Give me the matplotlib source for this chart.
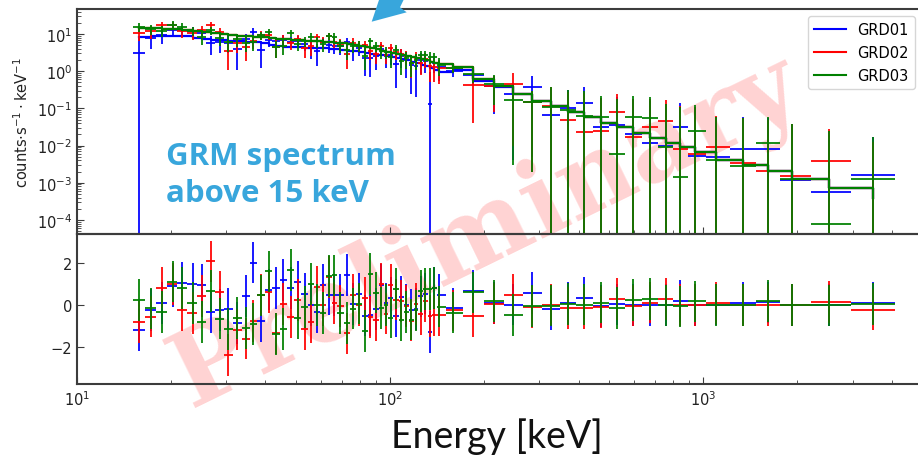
import numpy as np
import matplotlib
matplotlib.use("Agg")
import matplotlib.pyplot as plt
from matplotlib.lines import Line2D
from matplotlib.patches import Polygon
from matplotlib.ticker import LogLocator

# ---------------------------------------------------------------------------
# Spectral data: bin centres (keV), count rates, 1-sigma errors and model
# ---------------------------------------------------------------------------
energy_kev = [15.8, 17.2, 18.7, 20.2, 21.7, 23.4, 25.0, 26.8, 28.6, 30.4,
              32.5, 34.6, 36.6, 38.7, 40.9, 43.2, 45.6, 48.2, 50.7, 53.3,
              55.8, 58.3, 61.0, 63.7, 66.4, 69.2, 73.1, 76.0, 79.8, 83.2,
              86.3, 90.2, 93.6, 97.1, 100.5, 104.5, 108.4, 112.5, 116.7, 121.1,
              125.3, 129.4, 134.2, 138.5, 143.7,
              159, 184, 215, 247, 284, 327, 371, 417, 472, 531,
              597, 677, 762, 845, 942, 1101, 1343, 1614, 1923, 2528, 3491]

rate_grd01 = [3.1, 7.8, 9.3, 12.7, 12.7, 11.7, 10.6, 5.9, 6.0, 5.9,
              3.9, 7.3, 11.5, 3.7, 6.8, 6.4, 7.1, 6.1, 6.6, 5.3,
              4.2, 3.4, 6.0, 5.0, 4.8, 4.7, 6.2, 3.6, 4.2, 2.3,
              2.2, 2.5, 4.0, 2.6, 2.8, 1.55, 2.6, 1.95, 1.5, 1.4,
              1.95, 1.9, 0.13, 1.7, 1.3,
              1.0, 0.80, 0.40, 0.244, 0.37, 0.065, 0.10, 0.14, 0.032, 0.036,
              0.021, 0.012, 0.010, 0.031, 0.0053, 0.0050, 0.0081, 0.0081,
              0.0012, 0.00055, 0.00166]

rate_grd02 = [10.9, 11.8, 17.2, 17.3, 11.8, 10.6, 12.7, 17.2, 11.5, 3.5,
              5.8, 4.5, 6.5, 9.3, 9.2, 4.5, 7.3, 5.8, 7.3, 4.3,
              4.7, 8.1, 6.1, 8.7, 6.0, 5.5, 2.9, 5.9, 4.8, 5.0,
              3.4, 2.9, 4.9, 2.8, 4.2, 3.2, 2.9, 2.5, 1.65, 2.3,
              1.7, 2.1, 1.35, 1.3, 1.2,
              1.25, 0.42, 0.41, 0.45, 0.145, 0.119, 0.048, 0.023, 0.025, 0.0785,
              0.017, 0.032, 0.047, 0.008, 0.006, 0.0089, 0.0034, 0.0021,
              0.00156, 0.0038, -0.0030]

rate_grd03 = [15.6, 13.5, 12.4, 17.8, 15.9, 12.3, 8.4, 12.6, 7.8, 6.1,
              7.3, 5.8, 6.1, 9.2, 11.5, 4.4, 4.8, 10.5, 5.5, 6.4,
              8.5, 6.3, 5.3, 8.8, 8.5, 4.9, 3.8, 4.8, 4.9, 2.6,
              6.3, 4.7, 3.4, 3.3, 2.4, 3.8, 1.9, 2.2, 1.7, 2.0,
              2.7, 2.65, 2.45, 2.35, 1.5,
              1.22, 0.85, 0.45, 0.166, 0.152, 0.106, 0.09, 0.062, 0.058, 0.006,
              0.058, 0.055, 0.009, 0.0014, 0.024, 0.0042, 0.0029, 0.0115,
              0.0013, 0.00008, 0.00123]

err_grd01 = [4.5, 3.9, 4.0, 4.0, 3.9, 3.6, 3.3, 3.2, 3.0, 2.9,
             2.8, 2.7, 2.7, 2.5, 2.3, 2.1, 2.1, 2.0, 2.0, 1.9,
             2.1, 2.0, 2.0, 2.0, 1.9, 1.9, 1.8, 1.75, 1.65, 1.55,
             1.5, 1.45, 1.4, 1.35, 1.3, 1.2, 1.35, 1.3, 1.25, 1.2,
             1.1, 1.0, 0.82, 0.8, 0.75,
             0.3, 0.38, 0.33, 0.24, 0.365, 0.26, 0.22, 0.24, 0.16, 0.17,
             0.16, 0.145, 0.12, 0.11, 0.1, 0.054, 0.052, 0.048, 0.037, 0.024, 0.0155]

err_grd02 = [4.4, 4.3, 4.1, 4.0, 3.8, 3.6, 3.4, 3.2, 2.9, 2.4,
             2.7, 2.6, 2.5, 2.4, 2.3, 2.2, 2.1, 2.1, 2.0, 2.0,
             2.1, 2.1, 2.0, 2.0, 1.9, 1.85, 1.75, 1.7, 1.6, 1.5,
             1.4, 1.35, 1.3, 1.2, 1.15, 1.15, 1.1, 1.05, 1.0, 0.95,
             0.9, 0.9, 0.85, 0.8, 0.75,
             0.3, 0.38, 0.33, 0.44, 0.143, 0.26, 0.22, 0.24, 0.16, 0.17,
             0.16, 0.145, 0.12, 0.11, 0.1, 0.054, 0.052, 0.048, 0.037, 0.024, 0.0155]

err_grd03 = [4.4, 4.3, 4.1, 4.0, 3.8, 3.6, 3.4, 3.2, 2.9, 2.8,
             2.7, 2.6, 2.5, 2.4, 2.3, 2.2, 2.1, 2.1, 2.0, 2.0,
             2.1, 2.1, 2.0, 2.0, 1.9, 1.85, 1.75, 1.7, 1.6, 1.5,
             1.4, 1.35, 1.3, 1.2, 1.15, 1.15, 1.1, 1.05, 1.0, 0.95,
             0.9, 0.9, 0.85, 0.8, 0.75,
             0.3, 0.38, 0.33, 0.163, 0.15, 0.26, 0.22, 0.24, 0.16, 0.17,
             0.16, 0.145, 0.12, 0.11, 0.1, 0.054, 0.052, 0.048, 0.037, 0.024, 0.0155]

model_grd01 = [8.5, 8.7, 8.9, 9.0, 8.6, 8.0, 7.4, 7.0, 6.7, 6.5,
               6.3, 6.1, 6.0, 5.6, 5.1, 4.7, 4.6, 4.5, 4.4, 4.3,
               4.2, 4.1, 4.1, 4.0, 3.9, 3.8, 3.6, 3.5, 3.3, 3.1,
               2.95, 2.8, 2.65, 2.5, 2.35, 2.2, 2.1, 1.95, 1.8, 1.65,
               1.5, 1.35, 1.2, 1.05, 0.93,
               1.05, 0.55, 0.37, 0.24, 0.161, 0.114, 0.0785, 0.0575, 0.0405, 0.031,
               0.0214, 0.0157, 0.0117, 0.0093, 0.0066, 0.0042, 0.0030, 0.00204,
               0.00126, 0.00071, 0.0004]

model_grd02_03 = [14.5, 14.2, 13.8, 13.3, 12.8, 12.0, 11.2, 10.5, 9.7, 9.3,
                  9.0, 8.7, 8.4, 8.1, 7.8, 7.5, 7.2, 7.0, 6.8, 6.6,
                  6.4, 6.3, 6.1, 6.0, 5.8, 5.6, 5.3, 5.1, 4.8, 4.5,
                  4.2, 3.9, 3.6, 3.3, 3.1, 2.9, 2.7, 2.55, 2.4, 2.25,
                  2.1, 1.95, 1.8, 1.7, 1.56,
                  1.33, 0.62, 0.39, 0.244, 0.161, 0.114, 0.0785, 0.0575, 0.0405, 0.031,
                  0.0214, 0.0157, 0.0117, 0.0093, 0.0066, 0.0042, 0.0030, 0.00204,
                  0.00126, 0.00071, 0.0004]

detectors = ["GRD01", "GRD02", "GRD03"]
colors = ["blue", "red", "green"]
rates = [rate_grd01, rate_grd02, rate_grd03]
errors = [err_grd01, err_grd02, err_grd03]
models = [model_grd01, model_grd02_03, model_grd02_03]

rate_ticks = [1e-4, 1e-3, 1e-2, 1e-1, 1e0, 1e1]
energy_ticks = [10, 100, 1000]
resid_ticks = [-2, 0, 2]

# ---------------------------------------------------------------------------
# Figure layout
# ---------------------------------------------------------------------------
W, H = 918, 456
fig = plt.figure(figsize=(W / 100, H / 100), dpi=100)

def fx(px):
    return px / W

def fy(py):
    return 1 - py / H

left, right = 77, 922
ax_top = fig.add_axes([fx(left), fy(235), fx(right - left), (235 - 10) / H])
ax_res = fig.add_axes([fx(left), fy(385), fx(right - left), (385 - 235) / H],
                      sharex=ax_top)

# Bin edges halfway (in log) between neighbouring centres
E = np.asarray(energy_kev, dtype=float)
logE = np.log10(E)
mid = 10 ** ((logE[:-1] + logE[1:]) / 2)
lo = np.concatenate([[E[0] ** 2 / mid[0]], mid])
hi = np.concatenate([mid, [E[-1] ** 2 / mid[-1]]])
xerr = np.vstack([E - lo, hi - E])

for name, c, r, e, m in zip(detectors, colors, rates, errors, models):
    r = np.asarray(r, float)
    e = np.asarray(e, float)
    m = np.asarray(m, float)
    ax_top.errorbar(E, r, yerr=e, xerr=xerr, fmt="none", ecolor=c,
                    elinewidth=1.4, capsize=0, alpha=0.9)
    ax_top.step(E, m, where="post", color=c, lw=1.6)
    resid = (r - m) / e
    ax_res.errorbar(E, resid, yerr=np.ones_like(resid), xerr=xerr, fmt="none",
                    ecolor=c, elinewidth=1.4, capsize=0, alpha=0.9)

spine_col = "#3c3c3c"
for ax in (ax_top, ax_res):
    ax.set_facecolor("none")
    ax.set_xscale("log")
    for s in ax.spines.values():
        s.set_color(spine_col)
        s.set_linewidth(1.5)
    ax.tick_params(which="both", direction="in", colors=spine_col,
                   labelcolor="#222222", labelsize=10.5)
    ax.tick_params(which="major", length=5)
    ax.tick_params(which="minor", length=3)

ax_top.set_yscale("log")
ax_top.set_xlim(10, 5000)
ax_top.set_ylim(4.2e-5, 47)
ax_top.set_yticks(rate_ticks)
ax_top.yaxis.set_minor_locator(LogLocator(base=10, subs=np.arange(2, 10)))
ax_top.tick_params(axis="x", labelbottom=False)
ax_top.set_ylabel(r"counts$\cdot$s$^{-1}\cdot$keV$^{-1}$", fontsize=10.5,
                  color="#222222")

ax_res.set_xticks(energy_ticks)
ax_res.set_xlim(10, 5000)
ax_res.set_ylim(-3.8, 3.41)
ax_res.set_yticks(resid_ticks)

handles = [Line2D([], [], color=c, lw=1.5) for c in colors]
ax_top.legend(handles, detectors, loc="upper right", fontsize=10.5,
              handlelength=2.2, labelspacing=0.55)

# Annotations
blue_txt = "#38a6dc"
fig.text(fx(166), fy(165), "GRM spectrum", color=blue_txt, fontsize=22.5,
         fontweight="bold", family=["Open Sans", "DejaVu Sans"],
         ha="left", va="baseline")
fig.text(fx(166), fy(202), "above 15 keV", color=blue_txt, fontsize=22.5,
         fontweight="bold", family=["Open Sans", "DejaVu Sans"],
         ha="left", va="baseline")

fig.text(fx(497), fy(437), "Energy [keV]", fontsize=27,
         family=["Lato", "DejaVu Sans"], color="#111111",
         ha="center", va="center")

fig.text(fx(486), fy(232), "Preliminary", fontsize=75, fontweight="bold",
         family=["DejaVu Serif"], color="#ffd3d3", rotation=26,
         rotation_mode="anchor", ha="center", va="center", zorder=-5)

arrow_px = [(371.7, 22.7), (380, -2), (405, -2), (400, 8.3), (406.7, 13.3)]
arrow = Polygon([(x / 100, (H - y) / 100) for x, y in arrow_px], closed=True,
                facecolor=blue_txt, edgecolor="none",
                transform=fig.dpi_scale_trans)
fig.patches.append(arrow)

fig.savefig("out.png", dpi=100)
